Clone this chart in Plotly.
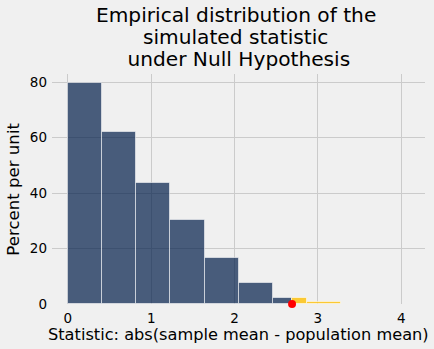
import plotly.graph_objects as go

# Histogram of the simulated statistic (percent per unit), bin edges and heights
bin_edges = [0.0, 0.41, 0.82, 1.23, 1.64, 2.05, 2.46, 2.87, 3.28]
percent_per_unit = [79.6, 62.0, 43.6, 30.2, 16.5, 7.5, 2.1, 0.6]
observed_stat = 2.69

x_ticks = [0, 1, 2, 3, 4]
y_ticks = [0, 20, 40, 60, 80]

title_lines = ["Empirical distribution of the", "simulated statistic", " under Null Hypothesis"]
x_label = "Statistic: abs(sample mean - population mean)"
y_label = "Percent per unit"

BG = "#f0f0f0"
BLUE = "rgba(0,28,72,0.7)"
GOLD = "rgba(252,198,36,0.92)"
EDGE = "rgba(255,255,255,0.55)"
FONT = "DejaVu Sans"

# split every bin at the observed value: left part blue, right part gold
blue_x, blue_w, blue_h = [], [], []
gold_x, gold_w, gold_h = [], [], []
for lo, hi, h in zip(bin_edges[:-1], bin_edges[1:], percent_per_unit):
    if lo < observed_stat:
        r = min(hi, observed_stat)
        blue_x.append((lo + r) / 2); blue_w.append(r - lo); blue_h.append(h)
    if hi > observed_stat:
        l = max(lo, observed_stat)
        gold_x.append((l + hi) / 2); gold_w.append(hi - l); gold_h.append(h)

fig = go.Figure()
fig.add_trace(go.Bar(x=blue_x, y=blue_h, width=blue_w,
                     marker=dict(color=BLUE, line=dict(color=EDGE, width=1))))
fig.add_trace(go.Bar(x=gold_x, y=gold_h, width=gold_w,
                     marker=dict(color=GOLD, line=dict(color=EDGE, width=1))))
fig.add_trace(go.Scatter(x=[observed_stat], y=[0], mode="markers", cliponaxis=False,
                         marker=dict(color="red", size=8, line=dict(width=0))))

W, H = 434, 349
L, R, T, B = 52, 9, 74, 45
pw, ph = W - L - R, H - T - B


def px_x(p):
    return (p - L) / pw


def px_y(p):
    return (H - B - p) / ph


annotations = []
for text, cx, cy in zip(title_lines, [235.5, 235.5, 235.5], [14.7, 36.7, 58.7]):
    annotations.append(dict(text=text, x=px_x(cx), y=px_y(cy), xref="paper", yref="paper",
                            xanchor="center", yanchor="middle", showarrow=False,
                            font=dict(family=FONT, size=20.16, color="#000")))
annotations.append(dict(text=x_label, x=px_x(238.4), y=px_y(334.0), xref="paper", yref="paper",
                        xanchor="center", yanchor="middle", showarrow=False,
                        font=dict(family=FONT, size=16.2, color="#000")))
annotations.append(dict(text=y_label, x=px_x(13.8), y=px_y(188.9), xref="paper", yref="paper",
                        xanchor="center", yanchor="middle", showarrow=False, textangle=-90,
                        font=dict(family=FONT, size=16.6, color="#000")))

fig.update_layout(
    width=W, height=H,
    margin=dict(l=L, r=R, t=T, b=B, pad=0),
    paper_bgcolor=BG, plot_bgcolor=BG,
    barmode="overlay", bargap=0, showlegend=False,
    font=dict(family=FONT, size=14, color="#000"),
    annotations=annotations,
)
fig.update_xaxes(range=[-0.19, 4.285], tickvals=x_ticks, ticks="", showline=False,
                 zeroline=False, showgrid=True, gridcolor="#cbcbcb", gridwidth=1,
                 ticklabelstandoff=4,
                 tickfont=dict(family=FONT, size=13.5, color="#000"))
fig.update_yaxes(range=[0, 83.0], tickvals=y_ticks, ticks="", showline=False,
                 zeroline=False, showgrid=True, gridcolor="#cbcbcb", gridwidth=1,
                 ticklabelstandoff=4,
                 tickfont=dict(family=FONT, size=13.5, color="#000"))

fig.write_html("out.html")
